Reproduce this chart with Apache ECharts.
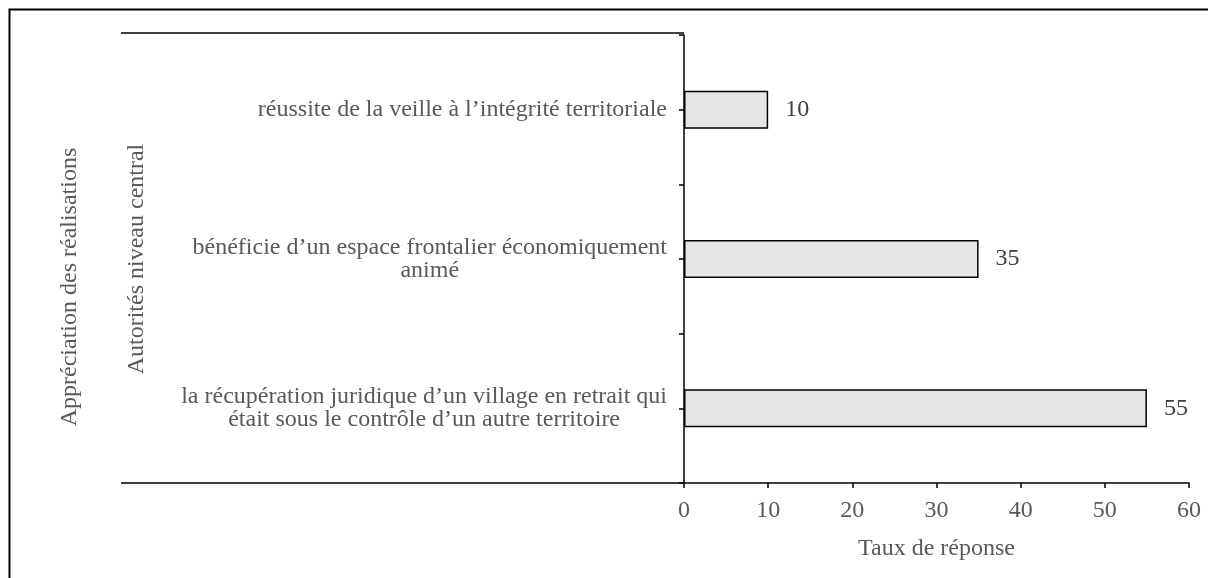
<!DOCTYPE html>
<html>
<head>
<meta charset="utf-8">
<script src="https://cdn.jsdelivr.net/npm/echarts@6/dist/echarts.min.js"></script>
<style>
	html, body { margin: 0; padding: 0; background: #fff; }
	#chart { width: 1208px; height: 578px; }
</style>
</head>
<body>
<div id="chart"></div>
<script>
var categories = [
	'réussite de la veille à l’intégrité territoriale',
	'bénéficie d’un espace frontalier économiquement\nanimé',
	'la récupération juridique d’un village en retrait qui\nétait sous le contrôle d’un autre territoire'
];
var values = [10, 35, 55];
var xTicks = [0, 10, 20, 30, 40, 50, 60];
var groupLabel = 'Autorités niveau central';
var outerLabel = 'Appréciation des réalisations';
var xName = 'Taux de réponse';

var font = 'Liberation Serif';
var grey = '#595959';
var fs = 24;

var chart = echarts.init(document.getElementById('chart'));
var option = {
	animation : false,
	backgroundColor : '#fff',
	grid : {
		left : 684,
		right : 19,
		top : 35,
		bottom : 95
	},
	xAxis : {
		type : 'value',
		min : xTicks[0],
		max : xTicks[xTicks.length - 1],
		interval : 10,
		name : xName,
		nameLocation : 'middle',
		nameGap : 54,
		nameTextStyle : { fontFamily : font, fontSize : fs, color : grey },
		axisLine : { show : true, lineStyle : { color : '#000', width : 1.5 } },
		axisTick : { show : true, length : 5, lineStyle : { color : '#000', width : 1.5 } },
		axisLabel : { margin : 16, fontFamily : font, fontSize : fs, color : grey },
		splitLine : { show : false }
	},
	yAxis : [
		{
			type : 'category',
			inverse : true,
			data : categories,
			name : groupLabel,
			nameLocation : 'middle',
			nameRotate : 90,
			nameGap : 535,
			nameTextStyle : { fontFamily : font, fontSize : fs, color : grey },
			axisLine : { show : false },
			axisTick : { show : false },
			axisLabel : {
				margin : 17,
				fontFamily : font,
				fontSize : fs,
				color : grey,
				lineHeight : 23,
				formatter : function (v) {
					return v.split('\n').map(function (s) { return '{c|' + s + '}'; }).join('\n');
				},
				rich : {
					c : { align : 'center', fontFamily : font, fontSize : fs, color : grey, lineHeight : 23 }
				}
			}
		},
		{
			type : 'value',
			min : 0,
			max : 6,
			interval : 1,
			position : 'left',
			axisLine : { show : true, lineStyle : { color : '#000', width : 1.5 } },
			axisTick : { show : true, length : 5, lineStyle : { color : '#000', width : 1.5 } },
			axisLabel : { show : false },
			splitLine : { show : false }
		}
	],
	graphic : [
		{
			type : 'rect',
			shape : { x : 9.5, y : 9.5, width : 1400, height : 800 },
			style : { fill : 'none', stroke : '#000', lineWidth : 2 }
		},
		{
			type : 'line',
			shape : { x1 : 121, y1 : 33, x2 : 684, y2 : 33 },
			style : { stroke : '#000', lineWidth : 1.5 }
		},
		{
			type : 'line',
			shape : { x1 : 121, y1 : 483, x2 : 684, y2 : 483 },
			style : { stroke : '#000', lineWidth : 1.5 }
		},
		{
			type : 'text',
			x : 70,
			y : 287,
			rotation : Math.PI / 2,
			style : {
				text : outerLabel,
				fontFamily : font,
				fontSize : fs,
				fill : grey,
				align : 'center',
				verticalAlign : 'middle'
			}
		}
	],
	series : [
		{
			type : 'bar',
			yAxisIndex : 0,
			data : values,
			barWidth : 38,
			itemStyle : { color : '#e6e6e6', borderColor : '#000', borderWidth : 1.5 },
			label : {
				show : true,
				position : 'right',
				distance : 17,
				fontFamily : font,
				fontSize : fs,
				color : '#404040'
			}
		}
	]
};
chart.setOption(option);
window.onresize = chart.resize;
</script>
</body>
</html>
